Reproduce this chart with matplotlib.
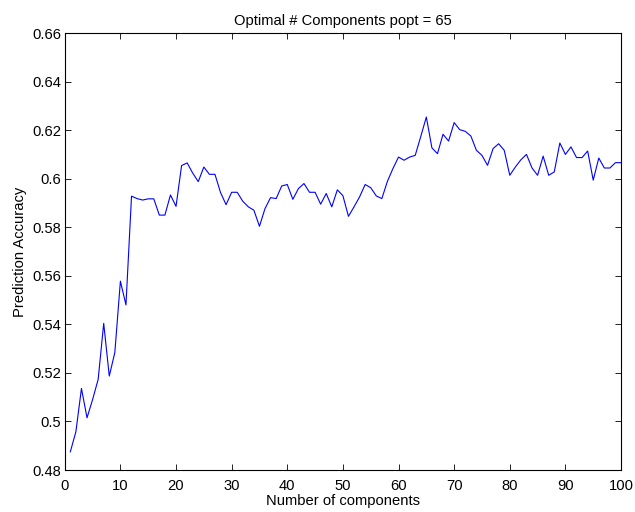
import matplotlib
matplotlib.use("Agg")
import matplotlib.pyplot as plt
import numpy as np

components = list(range(1, 101))
accuracy = [
    0.4875, 0.4958, 0.5136, 0.5015, 0.5090, 0.5173, 0.5404, 0.5187, 0.5284, 0.5578,
    0.5480, 0.5928, 0.5918, 0.5912, 0.5917, 0.5917, 0.5850, 0.5850, 0.5933, 0.5886,
    0.6054, 0.6065, 0.6023, 0.5988, 0.6048, 0.6018, 0.6018, 0.5943, 0.5893, 0.5944,
    0.5944, 0.5907, 0.5884, 0.5870, 0.5804, 0.5877, 0.5922, 0.5918, 0.5970, 0.5976,
    0.5915, 0.5959, 0.5980, 0.5944, 0.5944, 0.5895, 0.5939, 0.5884, 0.5954, 0.5930,
    0.5845, 0.5884, 0.5925, 0.5976, 0.5963, 0.5929, 0.5918, 0.5989, 0.6042, 0.6089,
    0.6076, 0.6089, 0.6096, 0.6174, 0.6254, 0.6127, 0.6103, 0.6183, 0.6155, 0.6231,
    0.6202, 0.6195, 0.6176, 0.6117, 0.6096, 0.6055, 0.6124, 0.6144, 0.6117, 0.6014,
    0.6048, 0.6078, 0.6100, 0.6044, 0.6014, 0.6093, 0.6014, 0.6028, 0.6147, 0.6100,
    0.6131, 0.6087, 0.6087, 0.6114, 0.5994, 0.6085, 0.6044, 0.6044, 0.6066, 0.6066,
]
xticks = list(range(0, 101, 10))
yticks = [0.48, 0.50, 0.52, 0.54, 0.56, 0.58, 0.60, 0.62, 0.64, 0.66]
ytick_labels = ["0.48", "0.5", "0.52", "0.54", "0.56", "0.58", "0.6", "0.62", "0.64", "0.66"]

plt.rcParams['font.family'] = ['Liberation Sans', 'DejaVu Sans']
fs = 10.6
fig = plt.figure(figsize=(6.35, 5.12), dpi=100)
ax = fig.add_axes([0.102, 0.082, 0.876, 0.8535])
ax.plot(components, accuracy, color=(0, 0, 1), linewidth=0.8)
ax.set_xlim(0, 100)
ax.set_ylim(0.48, 0.66)
ax.set_xticks(xticks)
ax.set_xticklabels([str(t) for t in xticks])
ax.set_yticks(yticks)
ax.set_yticklabels(ytick_labels)
ax.tick_params(direction='in', top=True, right=True, labelsize=fs, length=4, width=0.6)
ax.tick_params(axis='x', pad=6.5)
ax.tick_params(axis='y', pad=2.5)
for s in ax.spines.values():
    s.set_linewidth(0.8)
ax.set_xlabel("Number of components", fontsize=fs, labelpad=1)
ax.set_ylabel("Prediction Accuracy", fontsize=fs, labelpad=4)
ax.set_title("Optimal # Components popt = 65", fontsize=fs, pad=6)
fig.savefig("out.png", dpi=100)
